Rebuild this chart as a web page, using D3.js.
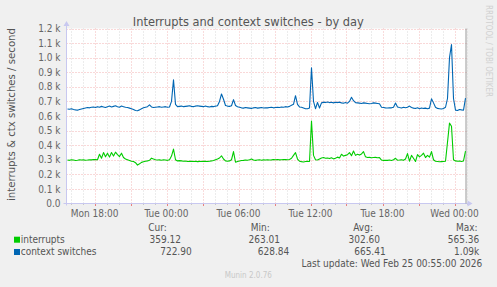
<!DOCTYPE html>
<html><head><meta charset="utf-8">
<script src="https://cdn.jsdelivr.net/npm/d3@7"></script>
<style>html,body{margin:0;padding:0;background:#F0F0F0;}svg{display:block;}text{font-family:"DejaVu Sans Condensed","DejaVu Sans",sans-serif;}</style>
</head><body>
<svg id="chart" width="497" height="287"></svg>
<script>
// ---- data (10-minute samples, first sample Mon 15:45) ----
const startTime = Date.UTC(2026, 1, 23, 15, 45);
const stepMinutes = 10;
const interrupts = [
 298,296,300,298,295,297,300,298,299,297,
 298,300,299,301,302,300,338,310,349,320,
 345,318,350,325,352,335,322,345,315,305,
 300,295,290,288,280,263,272,282,286,290,
 292,296,311,305,300,298,299,297,300,298,
 296,300,325,373,300,292,294,292,290,291,
 288,290,289,288,290,287,289,288,290,289,
 288,290,292,295,300,305,312,327,305,292,
 290,292,300,356,283,288,292,295,296,298,
 297,300,305,298,296,298,300,297,299,298,
 300,298,299,301,300,302,299,300,302,301,
 300,302,310,330,349,305,290,287,285,288,
 290,288,565,330,300,298,305,312,315,310,
 312,308,314,306,310,318,312,338,325,330,
 335,349,328,360,330,338,332,340,356,320,
 315,316,314,315,316,314,315,298,296,297,
 296,298,295,300,310,297,298,300,296,305,
 342,290,330,310,288,335,320,330,345,315,
 330,318,356,300,290,288,286,287,288,290,
 420,551,530,300,292,290,291,288,292,359
];
const contextSwitches = [
 648,646,650,645,642,640,644,648,652,655,
 658,656,660,662,658,664,660,666,662,658,
 664,668,662,666,670,664,660,668,664,660,
 658,654,650,645,638,636,642,650,656,660,
 664,676,662,658,660,662,664,660,662,664,
 660,662,700,849,680,664,666,668,664,666,
 668,670,666,664,668,670,668,666,664,668,
 664,662,666,664,668,670,700,751,715,672,
 668,666,670,712,672,664,660,656,654,658,
 656,654,652,656,658,654,656,658,655,657,
 656,658,660,656,658,660,658,662,660,664,
 662,666,674,680,739,680,662,660,655,650,
 650,655,930,700,650,693,655,690,695,692,
 696,692,694,690,694,692,695,690,688,692,
 688,700,728,705,692,690,688,686,690,688,
 686,684,686,690,688,686,684,660,658,656,
 655,657,656,660,689,662,658,655,660,657,
 660,668,658,654,652,656,650,655,652,654,
 650,654,718,690,660,652,650,648,652,660,
 720,1000,1090,720,640,638,645,642,640,723
];
const seriesNames = ["interrupts", "context switches"];
const seriesColors = ["#00CC00", "#0066B3"];
const yTicks = [0,100,200,300,400,500,600,700,800,900,1000,1100,1200];
const yTickLabels = ["0.0","0.1 k","0.2 k","0.3 k","0.4 k","0.5 k","0.6 k","0.7 k","0.8 k","0.9 k","1.0 k","1.1 k","1.2 k"];
const statHeaders = ["Cur:", "Min:", "Avg:", "Max:"];
const statsInterrupts = ["359.12", "263.01", "302.60", "565.36"];
const statsContext = ["722.90", "628.84", "665.41", "1.09k"];
const titleText = "Interrupts and context switches - by day";
const yTitle = "interrupts & ctx switches / second";
const lastUpdate = "Last update: Wed Feb 25 00:55:00 2026";
const sideText = "RRDTOOL / TOBI OETIKER";
const footer = "Munin 2.0.76";

// ---- layout ----
const svg = d3.select("#chart");
const X0 = 66.5, X1 = 466.5, Y0 = 203.5, Y1 = 28.5;
const x = d3.scaleUtc()
  .domain([Date.UTC(2026,1,23,15,40), Date.UTC(2026,1,25,1,0)])
  .range([X0, X1]);
const y = d3.scaleLinear().domain([0, 1200]).range([Y0, Y1]);

svg.append("rect").attr("width",497).attr("height",287).attr("fill","#F0F0F0");
svg.append("rect").attr("x",X0).attr("y",Y1).attr("width",X1-X0).attr("height",Y0-Y1).attr("fill","#FFFFFF");

// minor vertical grid (hourly)
const minor = x.ticks(d3.utcHour.every(1));
const major = x.ticks(d3.utcHour.every(3));
const majorSet = new Set(major.map(d=>+d));
svg.append("g").selectAll("line").data(minor.filter(d=>!majorSet.has(+d))).join("line")
  .attr("x1",d=>Math.round(x(d))+0.5).attr("x2",d=>Math.round(x(d))+0.5)
  .attr("y1",Y1).attr("y2",Y0)
  .attr("stroke","#D8D8D8").attr("stroke-dasharray","1,2");
// major vertical grid
svg.append("g").selectAll("line").data(major).join("line")
  .attr("x1",d=>Math.round(x(d))+0.5).attr("x2",d=>Math.round(x(d))+0.5)
  .attr("y1",Y1).attr("y2",Y0)
  .attr("stroke","#F2B8B8").attr("stroke-dasharray","1,2");
// horizontal grid
svg.append("g").selectAll("line").data(yTicks.filter(v=>v>0)).join("line")
  .attr("x1",X0).attr("x2",X1)
  .attr("y1",d=>Math.round(y(d))+0.5).attr("y2",d=>Math.round(y(d))+0.5)
  .attr("stroke","#F2B0B0").attr("stroke-dasharray","1,2");

// y labels
svg.append("g").selectAll("text").data(yTicks).join("text")
  .attr("x",60.5).attr("y",d=>y(d)+3.6)
  .attr("text-anchor","end").attr("font-size","10px").attr("fill","#666")
  .text((d,i)=>yTickLabels[i]);

// x ticks + labels
svg.append("g").selectAll("line").data(major).join("line")
  .attr("x1",d=>Math.round(x(d))+0.5).attr("x2",d=>Math.round(x(d))+0.5)
  .attr("y1",Y0).attr("y2",Y0+2.5).attr("stroke","#E88080");
svg.append("g").selectAll("line").data(minor.filter(d=>!majorSet.has(+d))).join("line")
  .attr("x1",d=>Math.round(x(d))+0.5).attr("x2",d=>Math.round(x(d))+0.5)
  .attr("y1",Y0).attr("y2",Y0+1.5).attr("stroke","#C8C8C8");
const fmt = d3.utcFormat("%a %H:%M");
svg.append("g").selectAll("text").data(x.ticks(d3.utcHour.every(6))).join("text")
  .attr("x",d=>x(d)).attr("y",217)
  .attr("text-anchor","middle").attr("font-size","10px").attr("fill","#666")
  .text(d=>fmt(d));

// axes lines with arrows
svg.append("line").attr("x1",X0).attr("x2",X0).attr("y1",Y0+2).attr("y2",22).attr("stroke","#C8C8F0");
svg.append("path").attr("d",`M${X0-3},26 L${X0},21 L${X0+3},26 Z`).attr("fill","#C8C8F0");
svg.append("line").attr("x1",X0-3).attr("x2",X1+4).attr("y1",Y0).attr("y2",Y0).attr("stroke","#C8C8F0");
svg.append("path").attr("d",`M${X1+1},${Y0-3} L${X1+6},${Y0} L${X1+1},${Y0+3} Z`).attr("fill","#C8C8F0");
svg.append("line").attr("x1",X1-0.5).attr("x2",X1-0.5).attr("y1",Y1).attr("y2",Y0).attr("stroke","#999");

// lines
const line = d3.line()
  .x((d,i)=>x(startTime + i*stepMinutes*60000))
  .y(d=>y(d));
[interrupts, contextSwitches].forEach((s,k)=>{
  svg.append("path").datum(s).attr("d",line).attr("fill","none")
    .attr("stroke",seriesColors[k]).attr("stroke-width",1.1).attr("stroke-linejoin","round");
});

// title
svg.append("text").attr("x",248.3).attr("y",25.5).attr("text-anchor","middle")
  .attr("font-size","12.7px").attr("fill","#555")
  .attr("textLength",231).attr("lengthAdjust","spacingAndGlyphs").text(titleText);
// y title
svg.append("text").attr("transform","translate(15,114.5) rotate(-90)")
  .attr("text-anchor","middle").attr("font-size","11px").attr("fill","#555")
  .attr("textLength",173).attr("lengthAdjust","spacingAndGlyphs").text(yTitle);
// side text
svg.append("text").attr("transform","translate(486,51) rotate(90)")
  .attr("text-anchor","middle").attr("font-size","9px").attr("fill","#D0D0D0")
  .attr("textLength",92).attr("lengthAdjust","spacingAndGlyphs").text(sideText);

// legend
const legY = [242.7, 255];
seriesNames.forEach((n,k)=>{
  svg.append("rect").attr("x",14).attr("y",legY[k]-6).attr("width",6).attr("height",6).attr("fill",seriesColors[k]);
  svg.append("text").attr("x",20.7).attr("y",legY[k]).attr("font-size","10px").attr("fill","#555").text(n);
});
const headerX = [148.3, 250.7, 353.3, 456];
statHeaders.forEach((h,i)=>{
  svg.append("text").attr("x",headerX[i]).attr("y",230.7).attr("font-size","10px").attr("fill","#555").text(h);
});
const endX1 = [181, 280, 380, 479.3];
const endX2 = [191.7, 289.3, 385.7, 479.3];
statsInterrupts.forEach((v,i)=>{
  svg.append("text").attr("x",endX1[i]).attr("y",legY[0]).attr("text-anchor","end").attr("font-size","10px").attr("fill","#555").text(v);
});
statsContext.forEach((v,i)=>{
  svg.append("text").attr("x",endX2[i]).attr("y",legY[1]).attr("text-anchor","end").attr("font-size","10px").attr("fill","#555").text(v);
});
svg.append("text").attr("x",482.3).attr("y",266.7).attr("text-anchor","end").attr("font-size","10px").attr("fill","#555").text(lastUpdate);
svg.append("text").attr("x",248.3).attr("y",278).attr("text-anchor","middle").attr("font-size","8px").attr("fill","#C8C8C8").text(footer);
</script>
</body></html>
